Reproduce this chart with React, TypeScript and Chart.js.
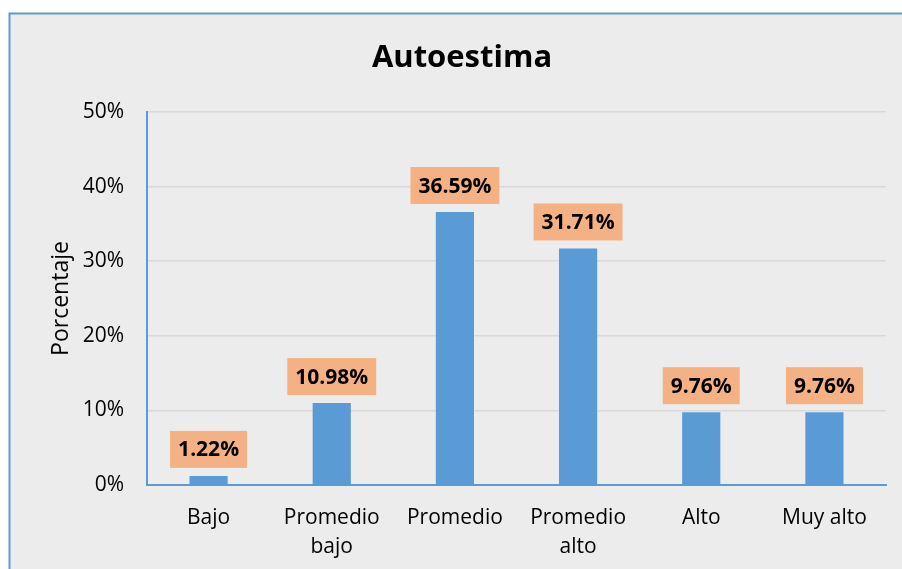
import React, { useEffect, useRef } from "react";
import { Chart, registerables } from "chart.js";

Chart.register(...registerables);

const categories: (string | string[])[] = ["Bajo", ["Promedio", "bajo"], "Promedio", ["Promedio", "alto"], "Alto", "Muy alto"];
const values: number[] = [1.22, 10.98, 36.59, 31.71, 9.76, 9.76];
const valueLabels: string[] = ["1.22%", "10.98%", "36.59%", "31.71%", "9.76%", "9.76%"];
const chartTitle = "Autoestima";
const yAxisTitle = "Porcentaje";

const FONT = "'Open Sans', 'Noto Sans', sans-serif";

const backgroundPlugin = {
  id: "bgbox",
  beforeDraw(chart: any) {
    const ctx = chart.ctx;
    ctx.save();
    ctx.fillStyle = "#ffffff";
    ctx.fillRect(0, 0, chart.width, chart.height);
    ctx.fillStyle = "#ececec";
    ctx.fillRect(9, 13, chart.width, chart.height);
    ctx.strokeStyle = "#5b9bd5";
    ctx.lineWidth = 2;
    ctx.beginPath();
    ctx.moveTo(9.5, chart.height + 5);
    ctx.lineTo(9.5, 13.5);
    ctx.lineTo(chart.width + 5, 13.5);
    ctx.stroke();
    ctx.fillStyle = "#000000";
    ctx.font = `bold 31px ${FONT}`;
    ctx.textAlign = "center";
    ctx.textBaseline = "middle";
    ctx.fillText(chartTitle, 462, 58);
    ctx.restore();
  },
};

const labelPlugin = {
  id: "boxlabels",
  afterDatasetsDraw(chart: any) {
    const ctx = chart.ctx;
    const meta = chart.getDatasetMeta(0);
    ctx.save();
    ctx.font = `bold 21px ${FONT}`;
    ctx.textAlign = "center";
    ctx.textBaseline = "middle";
    meta.data.forEach((bar: any, i: number) => {
      const text = valueLabels[i];
      const w = ctx.measureText(text).width + 16;
      const h = 37;
      const bottom = bar.y - 8;
      ctx.fillStyle = "#f4b183";
      ctx.fillRect(bar.x - w / 2, bottom - h, w, h);
      ctx.fillStyle = "#000000";
      ctx.fillText(text, bar.x, bottom - h / 2 + 1);
    });
    ctx.restore();
  },
};

export default function App() {
  const ref = useRef<HTMLCanvasElement | null>(null);
  useEffect(() => {
    if (!ref.current) return;
    const chart = new Chart(ref.current, {
      type: "bar",
      data: {
        labels: categories,
        datasets: [
          {
            data: values,
            backgroundColor: "#5b9bd5",
            borderWidth: 0,
            categoryPercentage: 1,
            barPercentage: 0.31,
          },
        ],
      },
      options: {
        animation: false,
        responsive: false,
        devicePixelRatio: 1,
        layout: { padding: { left: 0, top: 112, right: 16, bottom: 0 } },
        plugins: {
          legend: { display: false },
          tooltip: { enabled: false },
          title: { display: false },
        },
        scales: {
          x: {
            grid: { display: false, drawTicks: false, tickLength: 0 },
            border: { display: true, color: "#5b9bd5", width: 2 },
            ticks: {
              color: "#000000",
              font: { family: FONT, size: 21, lineHeight: 1.38 },
              padding: 19,
              maxRotation: 0,
              autoSkip: false,
            },
            afterFit(scale: any) {
              scale.height = 84;
            },
          },
          y: {
            min: 0,
            max: 50,
            grid: {
              drawTicks: false,
              tickLength: 0,
              lineWidth: 1.5,
              color: (c: any) => (c.tick && c.tick.value === 0 ? "rgba(0,0,0,0)" : "#d9d9d9"),
            },
            border: { display: true, color: "#5b9bd5", width: 2 },
            ticks: {
              stepSize: 10,
              color: "#000000",
              font: { family: FONT, size: 21 },
              padding: 23,
              callback: (v: any) => `${v}%`,
            },
            title: {
              display: true,
              text: yAxisTitle,
              color: "#000000",
              font: { family: FONT, size: 23 },
              padding: { top: 48, bottom: 0 },
            },
            afterFit(scale: any) {
              scale.width = 147;
            },
          },
        },
      },
      plugins: [backgroundPlugin, labelPlugin],
    });
    return () => chart.destroy();
  }, []);
  return (
    <div style={{ position: "fixed", left: 0, top: 0, width: 902, height: 569, background: "#fff" }}>
      <canvas ref={ref} width={902} height={569} style={{ display: "block", width: 902, height: 569 }} />
    </div>
  );
}
